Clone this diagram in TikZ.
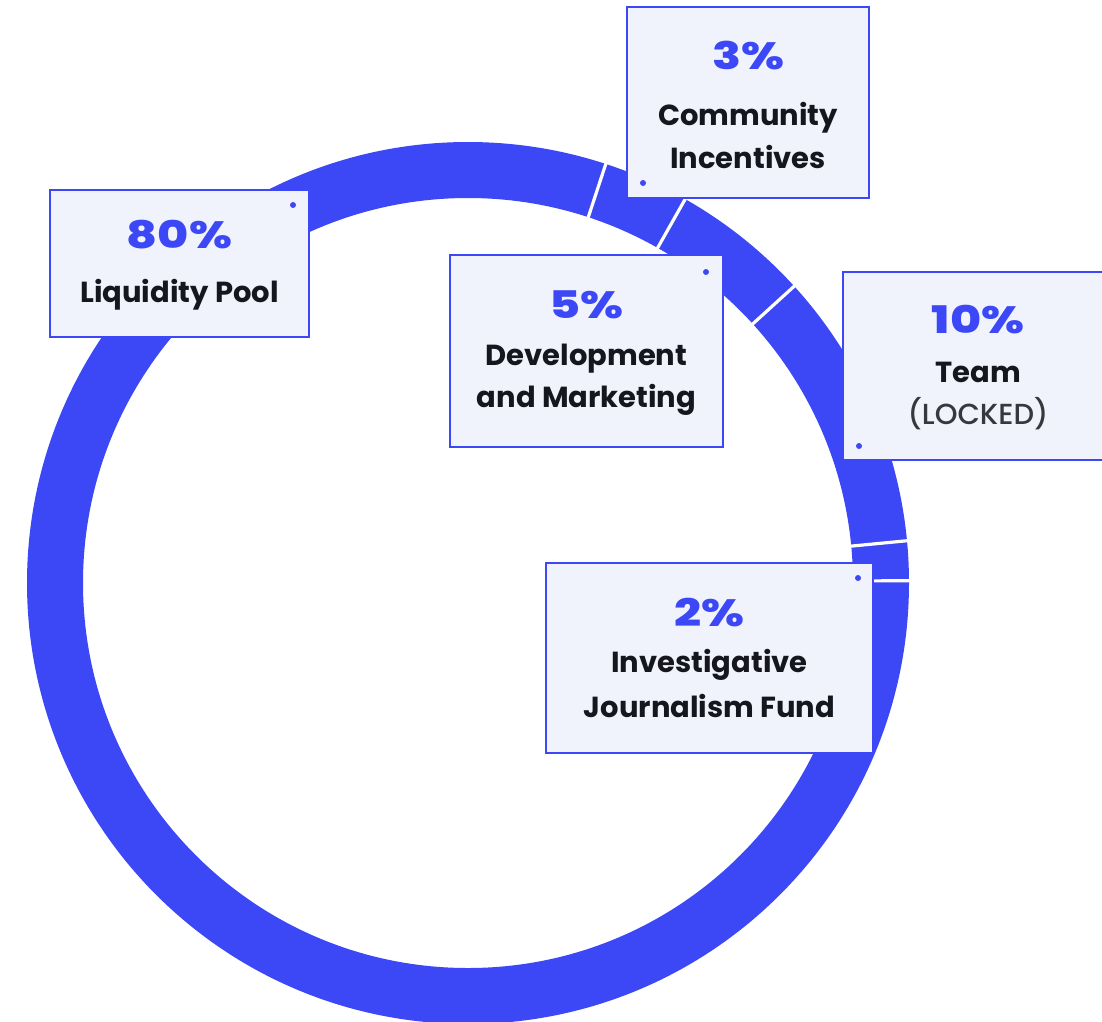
\documentclass[tikz,border=0pt]{standalone}
\usepackage{fontspec}
\usetikzlibrary{calc}
\setmainfont{Poppins}
\IfFontExistsTF{Poppins Bold}{\newfontfamily\labelfont{Poppins Bold}}{\newfontfamily\labelfont{Poppins}[UprightFont=*-Bold]}
\IfFontExistsTF{Poppins ExtraBold}{\newfontfamily\pctfont{Poppins ExtraBold}[FakeStretch=1.25]}{\newfontfamily\pctfont{Poppins}[UprightFont=*-Bold,FakeStretch=1.25]}
\IfFontExistsTF{Poppins Medium}{\newfontfamily\lockfont{Poppins Medium}}{\newfontfamily\lockfont{Poppins}}
\definecolor{ringblue}{RGB}{60,72,246}
\definecolor{cardfill}{RGB}{241,243,252}
\definecolor{txtdark}{RGB}{22,22,30}
\definecolor{txtgray}{RGB}{55,55,62}
\begin{document}
\begin{tikzpicture}[x=1pt,y=-1pt,
  card/.style={draw=ringblue, line width=2.4pt, fill=cardfill, inner sep=0pt},
  pct/.style={anchor=base, text=ringblue, font=\pctfont\fontsize{38}{42}\selectfont, inner sep=0pt},
  lbl/.style={anchor=base, text=txtdark, font=\labelfont\fontsize{29}{32}\selectfont, inner sep=0pt},
  lock/.style={anchor=base, text=txtgray, font=\lockfont\fontsize{29}{32}\selectfont, inner sep=0pt},
  dotmark/.style={circle, fill=ringblue, inner sep=0pt, minimum size=6pt},
  sep/.style={draw=white, line width=3.2pt}]
\useasboundingbox (0,0) rectangle (1102,1021);
% ring
\coordinate (c) at (468,583);
\draw[ringblue, line width=56pt] (c) circle[radius=413pt];
% separators
\foreach \a in {0.3,5.5,42.3,60.5,71.8}{
  \draw[sep] ($(c)+(\a:378pt)$) -- ($(c)+(\a:448pt)$);
}
% boxes
\node[card, minimum width=259pt, minimum height=147pt] (b1) at (179.5,263.5) {};
\node[card, minimum width=242pt, minimum height=191pt] (b2) at (748,102.5) {};
\node[card, minimum width=273pt, minimum height=192pt] (b3) at (586.5,351) {};
\node[card, minimum width=270pt, minimum height=188pt] (b4) at (978,366) {};
\node[card, minimum width=327pt, minimum height=190pt] (b5) at (709.5,658) {};
% dots
\node[dotmark] (d1) at (293,205) {};
\node[dotmark] (d2) at (643,183) {};
\node[dotmark] (d3) at (706,272) {};
\node[dotmark] (d4) at (859,446) {};
\node[dotmark] (d5) at (858,578) {};
% texts
\node[pct] (p1) at (179.5,248) {80\%};
\node[lbl] (l1) at (179.5,302) {Liquidity Pool};
\node[pct] (p2) at (748,69) {3\%};
\node[lbl] (l2a) at (748,125) {Community};
\node[lbl] (l2b) at (748,168) {Incentives};
\node[pct] (p3) at (586.5,318) {5\%};
\node[lbl] (l3a) at (586.5,365) {Development};
\node[lbl] (l3b) at (586.5,407) {and Marketing};
\node[pct] (p4) at (978,333) {10\%};
\node[lbl] (l4a) at (978,382) {Team};
\node[lock] (l4b) at (978,424) {(LOCKED)};
\node[pct] (p5) at (709.5,626) {2\%};
\node[lbl] (l5a) at (709.5,672) {Investigative};
\node[lbl] (l5b) at (709.5,717) {Journalism Fund};
\end{tikzpicture}
\end{document}
